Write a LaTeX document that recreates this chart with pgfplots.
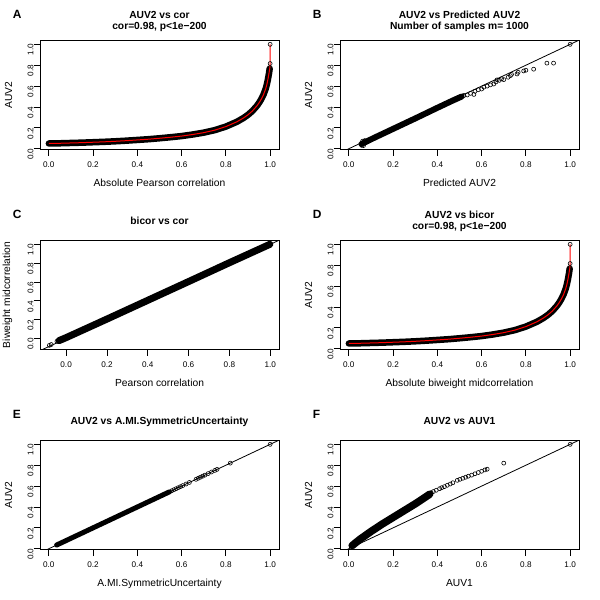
\documentclass[border=0pt]{standalone}
\usepackage{fontspec}
\setmainfont{Liberation Sans}
\usepackage{pgfplots}
\usepackage{pgfplotstable}
\pgfplotsset{compat=1.18}

\pgfplotstableread{
x y
0.000 0.050
0.050 0.052
0.100 0.055
0.150 0.058
0.200 0.062
0.250 0.066
0.300 0.071
0.350 0.077
0.400 0.084
0.450 0.091
0.500 0.100
0.550 0.110
0.600 0.121
0.650 0.136
0.700 0.154
0.750 0.178
0.800 0.212
0.850 0.258
0.880 0.295
0.900 0.325
0.920 0.362
0.940 0.410
0.950 0.440
0.960 0.475
0.970 0.518
0.980 0.575
0.985 0.615
0.990 0.665
0.995 0.725
0.998 0.768
}\curveA

\pgfplotstableread{
x y
0.998 0.768
1.000 0.816
1.000 1.000
}\tailA

\pgfplotstableread{
x y
1.000 0.816
1.000 1.000
}\ptsA

\pgfplotstableread{
x y
0.057 0.045
0.080 0.069
0.120 0.110
0.200 0.190
0.300 0.290
0.400 0.392
0.470 0.462
0.510 0.500
}\bandB

\pgfplotstableread{
x y
0.058 0.032
0.062 0.072
0.066 0.030
0.072 0.078
0.520 0.510
0.535 0.515
0.550 0.530
0.565 0.520
0.570 0.550
0.585 0.565
0.600 0.572
0.610 0.590
0.625 0.600
0.640 0.612
0.655 0.620
0.665 0.640
0.670 0.660
0.680 0.655
0.690 0.670
0.700 0.662
0.720 0.685
0.730 0.700
0.735 0.712
0.760 0.716
0.765 0.732
0.790 0.745
0.800 0.752
0.835 0.762
0.895 0.820
0.925 0.820
1.000 1.000
}\ptsB

\pgfplotstableread{
x y
-0.035 -0.022
0.000 0.010
0.200 0.207
0.400 0.406
0.600 0.605
0.800 0.805
0.998 1.000
}\bandC

\pgfplotstableread{
x y
-0.082 -0.072
-0.073 -0.063
-0.045 -0.030
}\ptsC

\pgfplotstableread{
x y
0.035 0.035
0.200 0.200
0.400 0.400
0.545 0.545
}\bandE

\pgfplotstableread{
x y
0.555 0.555
0.565 0.565
0.575 0.575
0.585 0.585
0.595 0.595
0.605 0.605
0.620 0.620
0.635 0.635
0.665 0.665
0.675 0.675
0.685 0.685
0.695 0.695
0.705 0.705
0.720 0.720
0.735 0.735
0.750 0.750
0.760 0.760
0.820 0.820
1.000 1.000
}\ptsE

\pgfplotstableread{
x y
0.015 0.030
0.050 0.090
0.100 0.165
0.150 0.235
0.200 0.300
0.250 0.365
0.300 0.430
0.350 0.500
0.365 0.522
}\bandF

\pgfplotstableread{
x y
0.372 0.537
0.382 0.548
0.395 0.560
0.410 0.575
0.420 0.585
0.432 0.595
0.445 0.608
0.458 0.620
0.470 0.632
0.490 0.655
0.502 0.665
0.515 0.675
0.528 0.685
0.540 0.695
0.555 0.705
0.570 0.718
0.585 0.730
0.600 0.742
0.615 0.755
0.625 0.762
0.700 0.820
1.000 1.000
}\ptsF

\pgfplotsset{
  panel/.style={
    scale only axis, width=239bp, height=109.4bp,
    anchor=south west,
    axis line style={line width=0.8bp},
    every tick/.style={black, line width=0.8bp},
    tick align=outside, major tick length=6.3bp,
    xtick pos=bottom, ytick pos=left,
    xtick={0,0.2,0.4,0.6,0.8,1}, ytick={0,0.2,0.4,0.6,0.8,1},
    xticklabels={0.0,0.2,0.4,0.6,0.8,1.0},
    yticklabels={0.0,0.2,0.4,0.6,0.8,1.0},
    /pgf/number format/assume math mode=true,
    tick label style={font=\fontsize{8.2}{9}\selectfont, inner sep=0pt},
    xticklabel style={anchor=north, yshift=-5.3bp},
    yticklabel style={rotate=90, anchor=south, xshift=-5.5bp},
    xmin=-0.04, xmax=1.04, ymin=-0.0095, ymax=1.0388,
  },
  band/.style={black, line width=6.5bp, line cap=round, line join=round, no marks},
  circ/.style={only marks, mark=o, mark size=2bp, mark options={line width=0.6bp, black}},
  diag/.style={black, line width=0.8bp, no marks},
  redline/.style={red, line width=1bp, no marks, line join=round},
}

\newcommand{\ttl}{\fontsize{10.3}{12}\selectfont\bfseries}
\newcommand{\lbl}{\fontsize{10.3}{12}\selectfont}

\begin{document}
\begin{tikzpicture}
\path[use as bounding box] (0bp,0bp) rectangle (600bp,600bp);

% ---------- A ----------
\begin{axis}[panel, at={(40bp,450.3bp)}]
\addplot[band] table[x=x,y=y] {\curveA};
\addplot[redline] table[x=x,y=y] {\curveA};
\addplot[redline] table[x=x,y=y] {\tailA};
\addplot[circ] table[x=x,y=y] {\ptsA};
\end{axis}
% ---------- B ----------
\begin{axis}[panel, at={(340bp,450.3bp)}]
\addplot[diag] coordinates {(-0.0095,-0.0095) (1.0388,1.0388)};
\addplot[black, line width=6bp, line cap=round, no marks] table[x=x,y=y] {\bandB};
\addplot[circ] table[x=x,y=y] {\ptsB};
\end{axis}
% ---------- C ----------
\begin{axis}[panel, at={(40bp,250.3bp)}, xmin=-0.128, xmax=1.043, ymin=-0.118, ymax=1.043]
\addplot[diag] coordinates {(-0.118,-0.118) (1.043,1.043)};
\addplot[black, line width=7bp, line cap=round, no marks] table[x=x,y=y] {\bandC};
\addplot[circ] table[x=x,y=y] {\ptsC};
\end{axis}
% ---------- D ----------
\begin{axis}[panel, at={(340bp,250.3bp)}]
\addplot[band] table[x=x,y=y] {\curveA};
\addplot[redline] table[x=x,y=y] {\curveA};
\addplot[redline] table[x=x,y=y] {\tailA};
\addplot[circ] table[x=x,y=y] {\ptsA};
\end{axis}
% ---------- E ----------
\begin{axis}[panel, at={(40bp,50.3bp)}]
\addplot[diag] coordinates {(-0.0095,-0.0095) (1.0388,1.0388)};
\addplot[black, line width=5bp, line cap=round, no marks] table[x=x,y=y] {\bandE};
\addplot[circ] table[x=x,y=y] {\ptsE};
\end{axis}
% ---------- F ----------
\begin{axis}[panel, at={(340bp,50.3bp)}]
\addplot[diag] coordinates {(-0.0095,-0.0095) (1.0388,1.0388)};
\addplot[black, line width=7.5bp, line cap=round, line join=round, no marks] table[x=x,y=y] {\bandF};
\addplot[circ] table[x=x,y=y] {\ptsF};
\end{axis}

% panel letters
\foreach \L/\X/\Y in {A/12.7/581.7, B/312.7/581.7, C/12.7/381.7, D/312.7/381.7, E/12.7/181.7, F/312.7/181.7}
  \node[anchor=base west, inner sep=0pt, font=\fontsize{12}{14}\selectfont\bfseries] at (\X bp,\Y bp) {\L};

% titles
\node[anchor=base, inner sep=0pt, font=\ttl] at (159.5bp,581bp) {AUV2 vs cor};
\node[anchor=base, inner sep=0pt, font=\ttl] at (159.5bp,570bp) {cor=0.98, p<1e{\textminus}200};
\node[anchor=base, inner sep=0pt, font=\ttl] at (459.5bp,581bp) {AUV2 vs Predicted AUV2};
\node[anchor=base, inner sep=0pt, font=\ttl] at (459.5bp,570bp) {Number of samples m= 1000};
\node[anchor=base, inner sep=0pt, font=\ttl] at (159.5bp,375.3bp) {bicor vs cor};
\node[anchor=base, inner sep=0pt, font=\ttl] at (459.5bp,381bp) {AUV2 vs bicor};
\node[anchor=base, inner sep=0pt, font=\ttl] at (459.5bp,370bp) {cor=0.98, p<1e{\textminus}200};
\node[anchor=base, inner sep=0pt, font=\ttl] at (159.5bp,175.3bp) {AUV2 vs A.MI.SymmetricUncertainty};
\node[anchor=base, inner sep=0pt, font=\ttl] at (459.5bp,175.3bp) {AUV2 vs AUV1};

% x labels
\node[anchor=base, inner sep=0pt, font=\lbl] at (159.5bp,413.3bp) {Absolute Pearson correlation};
\node[anchor=base, inner sep=0pt, font=\lbl] at (459.5bp,413.3bp) {Predicted AUV2};
\node[anchor=base, inner sep=0pt, font=\lbl] at (159.5bp,213.3bp) {Pearson correlation};
\node[anchor=base, inner sep=0pt, font=\lbl] at (459.5bp,213.3bp) {Absolute biweight midcorrelation};
\node[anchor=base, inner sep=0pt, font=\lbl] at (159.5bp,13.3bp) {A.MI.SymmetricUncertainty};
\node[anchor=base, inner sep=0pt, font=\lbl] at (459.5bp,13.3bp) {AUV1};

% y labels
\node[anchor=base, inner sep=0pt, rotate=90, font=\lbl] at (12bp,505bp) {AUV2};
\node[anchor=base, inner sep=0pt, rotate=90, font=\lbl] at (312bp,505bp) {AUV2};
\node[anchor=base, inner sep=0pt, rotate=90, font=\lbl] at (10bp,305bp) {Biweight midcorrelation};
\node[anchor=base, inner sep=0pt, rotate=90, font=\lbl] at (312bp,305bp) {AUV2};
\node[anchor=base, inner sep=0pt, rotate=90, font=\lbl] at (12bp,105bp) {AUV2};
\node[anchor=base, inner sep=0pt, rotate=90, font=\lbl] at (312bp,105bp) {AUV2};
\end{tikzpicture}
\end{document}
